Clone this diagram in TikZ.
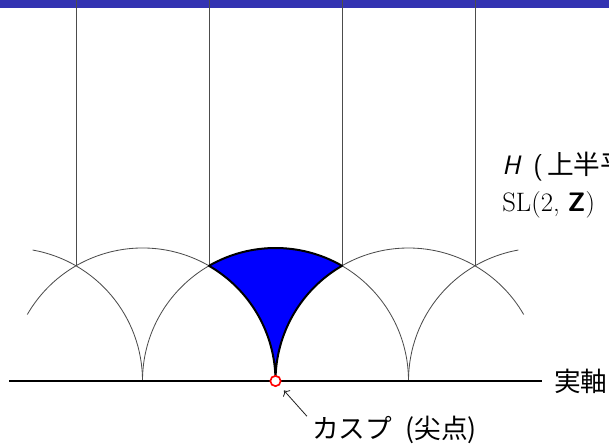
\documentclass[tikz,border=0pt]{standalone}
\usepackage{fontspec}
\newfontfamily\jpfont{Noto Sans CJK JP}
\usetikzlibrary{arrows.meta,positioning}
\definecolor{framebar}{RGB}{51,51,178}

\begin{document}
\begin{tikzpicture}[
  font=\fontsize{16}{22}\selectfont,
  x=79.8pt, y=79.8pt,
  arcline/.style={draw=black!70, line width=0.5pt},
  realaxis/.style={draw=black, line width=1.2pt},
  region/.style={fill=blue, draw=black, line width=1.2pt, line join=round},
  cuspmark/.style={circle, draw=red, fill=white, line width=1pt, minimum size=6.2pt, inner sep=0pt},
  lbl/.style={inner sep=0pt, anchor=base west},
]
\useasboundingbox (-2.0714,-0.4887) rectangle (2.5075,2.8647);
% Frame bar
\fill[framebar] (-2.0714,2.8045) rectangle (2.5075,2.8647);
% Arcs and vertical lines
\foreach \c/\a/\b in {-2/80/0, -1/150/0, 0/180/0, 1/180/30, 2/180/100} {\draw[arcline] (\c,0) ++(\a:1) arc[start angle=\a, end angle=\b, radius=1];}
\foreach \x in {-1.5,-0.5,0.5,1.5} {\draw[arcline] (\x,0.866) -- (\x,2.8647);}
% Fundamental domain
\draw[region] (0,0) arc[start angle=0, end angle=60, radius=1] arc[start angle=120, end angle=60, radius=1] arc[start angle=120, end angle=180, radius=1] -- cycle;
% Real axis
\coordinate (axisL) at (-2,0);
\coordinate (axisR) at (2,0);
\draw[realaxis] (axisL) -- (axisR);
\node[right=4pt of axisR] (axislbl) {\jpfont 実軸};
% Cusp
\node[cuspmark] (cusp) at (0,0) {};
\node[lbl] (cusplbl) at (0.274,-0.436) {\jpfont カスプ\hspace{8pt}(尖点)};
\draw[->, black!85, line width=0.5pt, shorten >=4pt] ([xshift=-3pt]cusplbl.north west) -- (cusp);
% Labels
\node[lbl] (hlbl) at (1.703,1.549) {{\sffamily{\itshape H}\hspace{3pt} (\hspace{2.5pt}{\jpfont 上半平面})}};
\node[lbl] (sllbl) at ([yshift=-22pt]hlbl.base west) {SL(2, {\sffamily\bfseries Z})};
\end{tikzpicture}
\end{document}
